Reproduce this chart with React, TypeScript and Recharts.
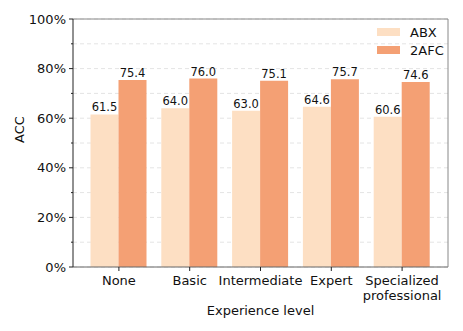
import { BarChart, Bar, XAxis, YAxis, CartesianGrid, LabelList, ReferenceLine } from "recharts";

/* ── Data ───────────────────────────────────────────────────────── */
const levels = ["None", "Basic", "Intermediate", "Expert", "Specialized\nprofessional"];
const abx = [61.5, 64.0, 63.0, 64.6, 60.6];
const afc = [75.4, 76.0, 75.1, 75.7, 74.6];
const yTicks = [0, 10, 20, 30, 40, 50, 60, 70, 80, 90, 100];

const ABX_COLOR = "#FDDFC3";
const AFC_COLOR = "#F4A074";
const FONT = "'DejaVu Sans', sans-serif";

const data = levels.map((level, i) => ({ level, ABX: abx[i], "2AFC": afc[i] }));

function YTick({ x, y, payload }: any) {
  const major = payload.value % 20 === 0;
  return (
    <g>
      <line x1={x + 8 - (major ? 4 : 2)} x2={x + 8} y1={y} y2={y} stroke="#222" strokeWidth={1} />
      {major && (
        <text x={x + 1} y={y} dy={4.5} textAnchor="end" fontSize={13} fill="#111" fontFamily={FONT}>
          {payload.value}%
        </text>
      )}
    </g>
  );
}

function XTick({ x, y, payload }: any) {
  const lines = String(payload.value).split("\n");
  return (
    <g>
      <line x1={x} x2={x} y1={y - 8} y2={y - 4} stroke="#222" strokeWidth={1} />
      {lines.map((t, i) => (
        <text key={i} x={x} y={y + 10 + i * 15} textAnchor="middle" fontSize={13} fill="#111" fontFamily={FONT}>
          {t}
        </text>
      ))}
    </g>
  );
}

function LegendBox() {
  const items = [
    { name: "ABX", color: ABX_COLOR },
    { name: "2AFC", color: AFC_COLOR },
  ];
  return (
    <div style={{ position: "absolute", left: 377, top: 23, fontFamily: FONT, fontSize: 13, color: "#111" }}>
      {items.map((it) => (
        <div key={it.name} style={{ display: "flex", alignItems: "center", height: 18 }}>
          <span style={{ width: 23, height: 8, background: it.color, marginRight: 10 }} />
          {it.name}
        </div>
      ))}
    </div>
  );
}

export default function App() {
  return (
    <div style={{ position: "absolute", left: 0, top: 0, width: 463, height: 331, background: "#fff" }}>
      <BarChart
        width={463}
        height={331}
        data={data}
        margin={{ top: 19, right: 14, bottom: 0, left: 0 }}
        barGap={0}
        barCategoryGap={7}
      >
        <CartesianGrid vertical={false} stroke="#e4e4e4" strokeDasharray="4 3" />
        <XAxis
          dataKey="level"
          height={64}
          padding={{ left: 10.5, right: 10.5 }}
          tickLine={false}
          tick={<XTick />}
          axisLine={{ stroke: "#666" }}
          interval={0}
          label={{ value: "Experience level", position: "insideBottom", offset: 16, fontSize: 13, fill: "#111", fontFamily: FONT }}
        />
        <YAxis
          width={73}
          domain={[0, 100]}
          ticks={yTicks}
          tickLine={false}
          tick={<YTick />}
          axisLine={{ stroke: "#222" }}
          label={{ value: "ACC", angle: -90, position: "insideLeft", offset: 19, fontSize: 13, fill: "#111", fontFamily: FONT }}
        />
        <YAxis yAxisId="r" orientation="right" width={1} domain={[0, 100]} tick={false} tickLine={false} axisLine={{ stroke: "#888" }} />
        <ReferenceLine y={100} stroke="#888" />
        <Bar dataKey="ABX" fill={ABX_COLOR} isAnimationActive={false}>
          <LabelList dataKey="ABX" position="top" offset={3} formatter={(v: any) => Number(v).toFixed(1)} fontSize={11.5} fill="#111" fontFamily={FONT} />
        </Bar>
        <Bar dataKey="2AFC" fill={AFC_COLOR} isAnimationActive={false}>
          <LabelList dataKey="2AFC" position="top" offset={3} formatter={(v: any) => Number(v).toFixed(1)} fontSize={11.5} fill="#111" fontFamily={FONT} />
        </Bar>
      </BarChart>
      <LegendBox />
    </div>
  );
}
